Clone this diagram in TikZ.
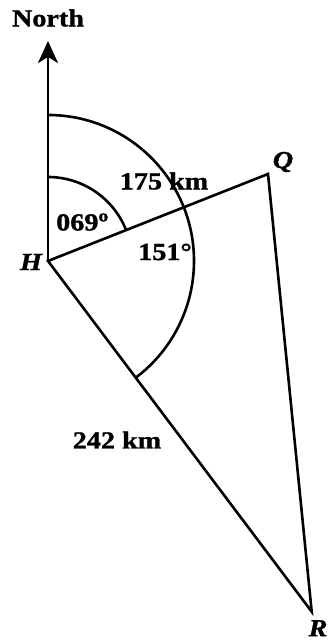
\documentclass[tikz,border=0pt]{standalone}
\usepackage{fontspec}
\setmainfont{Liberation Serif}
\newfontfamily\labfont[FakeStretch=1.15,FakeBold=1.2]{Liberation Serif}
\usetikzlibrary{arrows.meta}
\begin{document}
\begin{tikzpicture}[x=1pt,y=1pt,
  edge/.style={line width=2.6pt, line join=miter},
  lab/.style={inner sep=0pt, font=\labfont\bfseries\fontsize{24.5}{28}\selectfont},
  pt/.style={inner sep=0pt, font=\labfont\bfseries\itshape\fontsize{24.5}{28}\selectfont}]
\useasboundingbox (0,0) rectangle (331,640);
\clip (0,0) rectangle (331,640);
\coordinate (H) at (48,379);
\coordinate (Q) at (268,466);
\coordinate (R) at (311.7,28.3);
\coordinate (N) at (48,599);
\draw[edge] (H) -- (Q) -- (R) -- cycle;
\draw[edge, -{Stealth[length=22pt,width=20pt,inset=6pt]}] (H) -- (N);
\draw[edge] ([shift={(90:146pt)}]H) arc[start angle=90, end angle=-53.1, radius=146pt];
\draw[edge] ([shift={(90:84pt)}]H) arc[start angle=90, end angle=21.6, radius=84pt];
\node[lab] (north) at (48,622) {North};
\node[lab] (d175) at (164,459) {175 km};
\node[lab] (a069) at (82.5,418) {069\textsuperscript{o}};
\node[lab] (a151) at (165,388) {151°};
\node[lab] (d242) at (117,200) {242 km};
\node[pt] (lH) at (31,378) {H};
\node[pt] (lQ) at (283,478) {Q};
\node[pt, anchor=north] (lR) at (318,20) {R};
\end{tikzpicture}
\end{document}
